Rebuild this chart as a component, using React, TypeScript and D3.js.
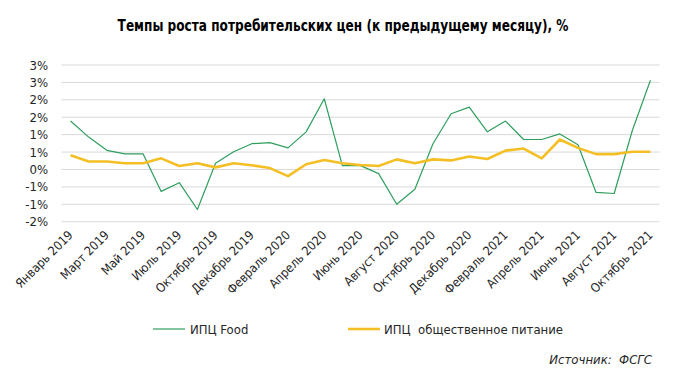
import React from "react";
import * as d3 from "d3";

const months = [
  "Январь 2019", "Февраль 2019", "Март 2019", "Апрель 2019", "Май 2019", "Июнь 2019",
  "Июль 2019", "Август 2019", "Октябрь 2019", "Ноябрь 2019", "Декабрь 2019",
  "Январь 2020", "Февраль 2020", "Март 2020", "Апрель 2020", "Май 2020", "Июнь 2020",
  "Июль 2020", "Август 2020", "Сентябрь 2020", "Октябрь 2020", "Ноябрь 2020", "Декабрь 2020",
  "Январь 2021", "Февраль 2021", "Март 2021", "Апрель 2021", "Май 2021", "Июнь 2021",
  "Июль 2021", "Август 2021", "Сентябрь 2021", "Октябрь 2021",
];

const cpiFood = [
  1.39, 0.93, 0.55, 0.45, 0.45, -0.63, -0.38, -1.15, 0.18, 0.51, 0.74,
  0.77, 0.62, 1.08, 2.03, 0.11, 0.11, -0.12, -1.0, -0.57, 0.74, 1.6,
  1.79, 1.08, 1.39, 0.86, 0.86, 1.02, 0.71, -0.66, -0.69, 1.12, 2.56,
];

const cpiCatering = [
  0.41, 0.23, 0.23, 0.18, 0.18, 0.32, 0.1, 0.18, 0.06, 0.18, 0.12,
  0.04, -0.19, 0.15, 0.27, 0.18, 0.13, 0.1, 0.29, 0.18, 0.29, 0.26,
  0.37, 0.3, 0.54, 0.6, 0.32, 0.86, 0.62, 0.44, 0.44, 0.51, 0.51,
];

const yTicks = [3.0, 2.5, 2.0, 1.5, 1.0, 0.5, 0, -0.5, -1.0, -1.5];
const yTickLabels = ["3%", "3%", "2%", "2%", "1%", "1%", "0%", "-1%", "-1%", "-2%"];

const seriesNames = ["ИПЦ Food", "ИПЦ  общественное питание"];
const title = "Темпы роста потребительских цен (к предыдущему месяцу), %";
const source = "Источник:  ФСГС";

const FONT = "'Liberation Sans Narrow', 'DejaVu Sans Condensed', 'Roboto Condensed', sans-serif";
const GREEN = "#2f9e5e";
const YELLOW = "#f4bf25";

export default function App() {
  const W = 686, H = 382;
  const left = 61.5, right = 659.5;
  const x = d3.scaleBand<number>().domain(d3.range(months.length)).range([left, right]);
  const cx = (i: number) => (x(i) as number) + x.bandwidth() / 2;
  const y = d3.scaleLinear().domain([-1.5, 3.0]).range([221.7, 65]);

  const line = d3.line<number>().x((_, i) => cx(i)).y((d) => y(d));

  const labelIdx = d3.range(0, months.length, 2);

  return (
    <svg width={W} height={H} style={{ position: "absolute", left: 0, top: 0, background: "#fff" }}>
      <g transform="translate(343,31) scale(0.9,1)">
        <text x={0} y={0} textAnchor="middle" fontFamily={FONT} fontWeight="bold" fontSize={15} fill="#000">
          {title}
        </text>
      </g>
      {yTicks.map((t, i) => (
        <g key={i}>
          <line x1={left} x2={right} y1={y(t)} y2={y(t)} stroke="#d9d9d9" strokeWidth={1} />
          <text x={48} y={y(t) + 4.5} textAnchor="end" fontFamily={FONT} fontSize={13} fill="#262626">
            {yTickLabels[i]}
          </text>
        </g>
      ))}
      <path d={line(cpiFood) || ""} fill="none" stroke={GREEN} strokeWidth={1.2} strokeLinejoin="round" />
      <path d={line(cpiCatering) || ""} fill="none" stroke={YELLOW} strokeWidth={2.6} strokeLinejoin="round" />
      {labelIdx.map((i) => (
        <text
          key={i}
          transform={`translate(${cx(i) + 3},${236}) rotate(-45)`}
          textAnchor="end"
          fontFamily={FONT}
          fontSize={12.5}
          fill="#262626"
        >
          {months[i]}
        </text>
      ))}
      <line x1={153} x2={185} y1={329} y2={329} stroke={GREEN} strokeWidth={1.2} />
      <text x={190} y={333.5} fontFamily={FONT} fontSize={13} fill="#262626">{seriesNames[0]}</text>
      <line x1={348} x2={380} y1={329} y2={329} stroke={YELLOW} strokeWidth={2.6} />
      <text x={384} y={333.5} fontFamily={FONT} fontSize={13} fill="#262626" style={{ whiteSpace: "pre" }}>
        {seriesNames[1]}
      </text>
      <text x={652} y={364} textAnchor="end" fontFamily={FONT} fontStyle="italic" fontSize={13} fill="#262626" style={{ whiteSpace: "pre" }}>
        {source}
      </text>
    </svg>
  );
}
